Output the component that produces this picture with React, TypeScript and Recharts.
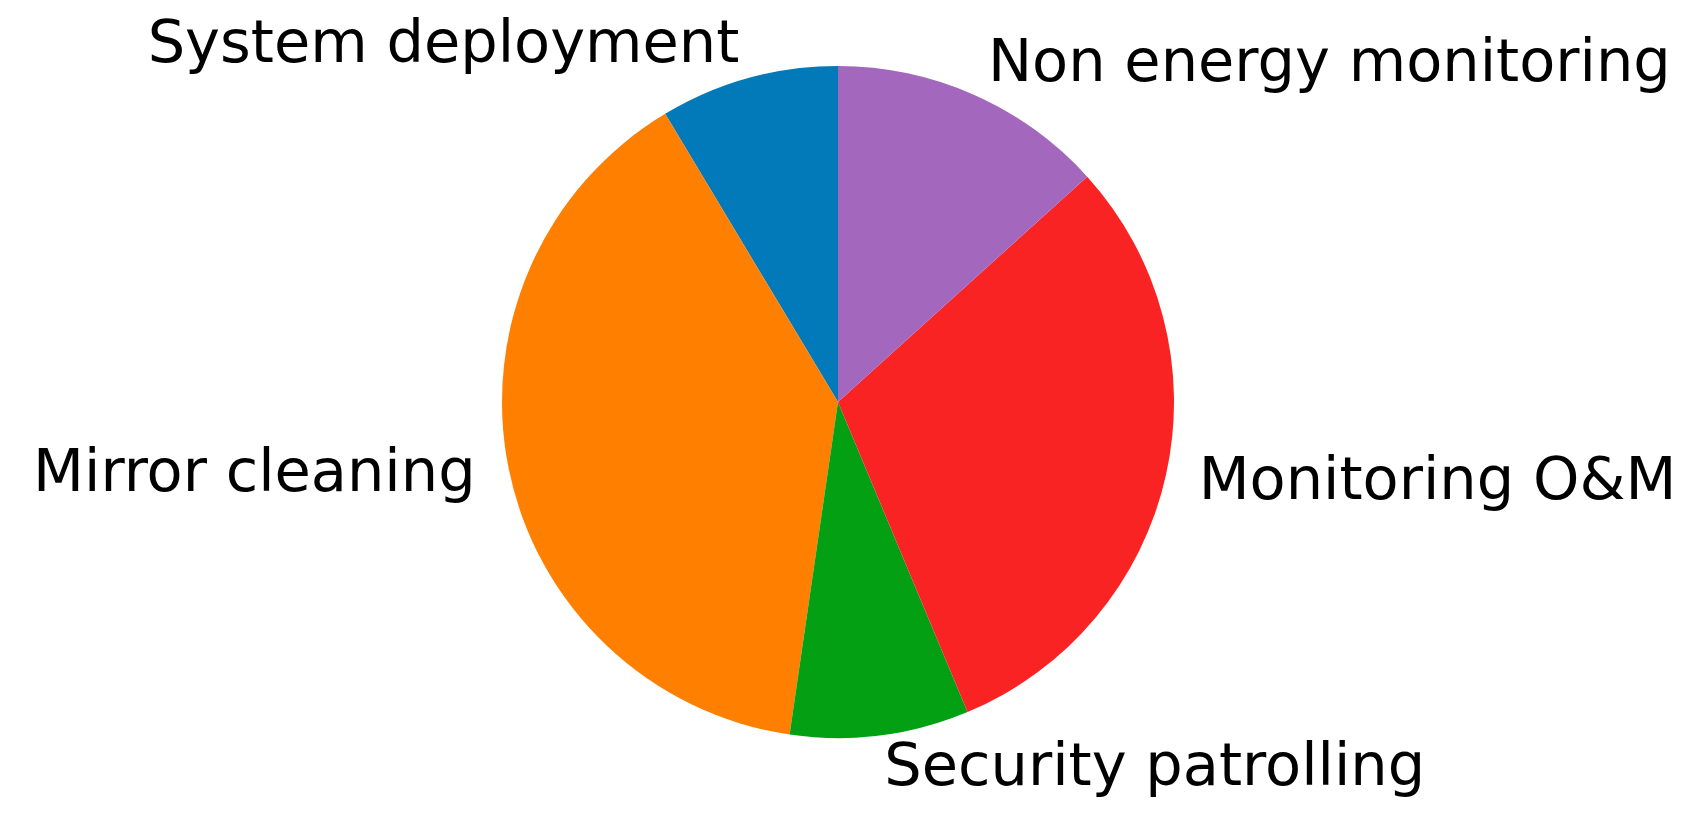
import React from "react";
import { PieChart, Pie, Cell } from "recharts";

const categories = [
  "System deployment",
  "Mirror cleaning",
  "Security patrolling",
  "Monitoring O&M",
  "Non energy monitoring",
];

const shares = [8.6, 39.1, 8.6, 30.4, 13.3];

const colors = ["#0279B8", "#FF8000", "#03A014", "#F92324", "#A367BD"];

const data = categories.map((name, i) => ({ name, value: shares[i] }));

const RADIAN = Math.PI / 180;

const renderLabel = (props: any) => {
  const { cx, cy, midAngle, outerRadius, name } = props;
  const r = outerRadius * 1.1;
  const x = cx + r * Math.cos(-midAngle * RADIAN);
  const y = cy + r * Math.sin(-midAngle * RADIAN);
  return (
    <text
      x={x}
      y={y - 4}
      fill="#000000"
      fontSize={59}
      fontFamily="DejaVu Sans"
      textAnchor={x > cx ? "start" : "end"}
      dominantBaseline="central"
    >
      {name}
    </text>
  );
};

const App: React.FC = () => {
  return (
    <div
      style={{
        position: "absolute",
        left: 0,
        top: 0,
        width: 1702,
        height: 834,
        background: "#ffffff",
      }}
    >
      <PieChart width={1702} height={834}>
        <Pie
          data={data}
          dataKey="value"
          nameKey="name"
          cx={833}
          cy={397}
          outerRadius={336}
          startAngle={90}
          endAngle={450}
          stroke="none"
          label={renderLabel}
          labelLine={false}
          isAnimationActive={false}
        >
          {data.map((entry, index) => (
            <Cell key={`cell-${entry.name}`} fill={colors[index]} />
          ))}
        </Pie>
      </PieChart>
    </div>
  );
};

export default App;
